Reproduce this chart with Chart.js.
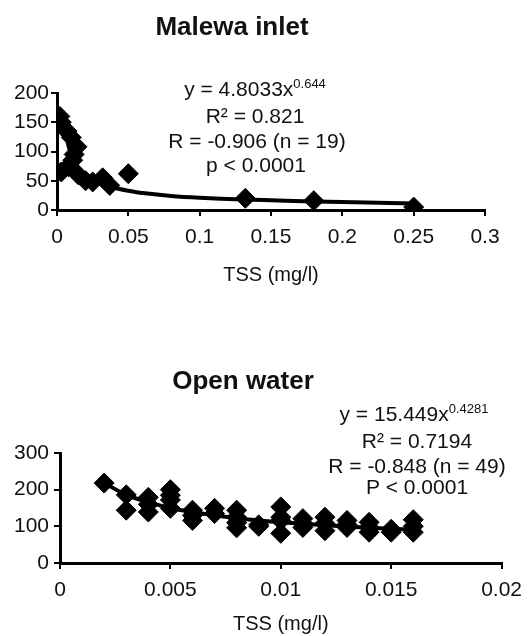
<!DOCTYPE html>
<html>
<head>
<meta charset="utf-8">
<script src="https://cdn.jsdelivr.net/npm/chart.js@4.4.1/dist/chart.umd.min.js"></script>
<style>
body{margin:0;background:#fff;}
#wrap{position:relative;width:531px;height:636px;}
canvas{position:absolute;left:0;}
#inletChart{top:0;}
#openChart{top:320px;}
</style>
</head>
<body>
<div id="wrap">
<canvas id="inletChart" width="531" height="300"></canvas>
<canvas id="openChart" width="531" height="316"></canvas>
</div>
<script>
// Malewa inlet - measured points
const inletTss = [0.002,0.003,0.004,0.007,0.010,0.014,0.012,0.011,0.008,0.003,0.015,0.020,0.025,0.032,0.037,0.050,0.132,0.180,0.250];
const inletVal = [160,150,142,135,124,108,95,85,74,65,60,50,48,55,42,62,20,16,5];

// Malewa inlet - trend curve
const inletFitTss = [0.004,0.005,0.006,0.008,0.01,0.013,0.016,0.02,0.025,0.03,0.04,0.05,0.06,0.08,0.1,0.13,0.16,0.2,0.25];
const inletFitVal = [160,146,131,111,93,78,69,60,52,46,38,33,29,24,21,18,16,13.5,11];

const inletXTicks = [0,0.05,0.1,0.15,0.2,0.25,0.3];
const inletYTicks = [0,50,100,150,200];

// Open water - measured points
const openTss = [0.002,0.003,0.003,0.004,0.004,0.004,0.005,0.005,0.005,0.005,0.006,0.006,0.006,0.007,0.007,0.008,0.008,0.008,0.008,0.009,0.009,0.010,0.010,0.010,0.010,0.011,0.011,0.011,0.012,0.012,0.012,0.013,0.013,0.013,0.014,0.014,0.014,0.015,0.015,0.016,0.016,0.016];
const openVal = [218,186,144,179,160,139,200,185,172,149,144,130,116,149,135,144,125,110,96,104,100,153,125,116,81,121,108,97,125,108,88,116,105,97,111,97,84,92,84,118,100,84];

// Open water - trend curve
const openFitTss = [0.002,0.003,0.004,0.005,0.006,0.007,0.008,0.009,0.01,0.012,0.014,0.016];
const openFitVal = [218,186,166,150,139,130,122,116,111,103,96,91];

const openXTicks = [0,0.005,0.01,0.015,0.02];
const openYTicks = [0,100,200,300];

const FONT = "'Liberation Sans', Arial, sans-serif";

function pts(xs, ys) {
  return xs.map((x, i) => ({x: x, y: ys[i]}));
}

// draws titles and regression text
const notes = {
  id: 'notes',
  afterDraw(chart, args, opts) {
    const ctx = chart.ctx;
    ctx.save();
    ctx.fillStyle = '#111';
    ctx.textBaseline = 'middle';
    ctx.textAlign = 'left';
    opts.lines.forEach(l => {
      ctx.font = l.font;
      const w = ctx.measureText(l.text).width;
      let sw = 0;
      if (l.sup) {
        ctx.font = '13px ' + FONT;
        sw = ctx.measureText(l.sup).width;
      }
      const x0 = l.x - (w + sw) / 2;
      ctx.font = l.font;
      ctx.fillText(l.text, x0, l.y);
      if (l.sup) {
        ctx.font = '13px ' + FONT;
        ctx.fillText(l.sup, x0 + w, l.y - 6);
      }
    });
    ctx.restore();
  }
};

function axis(min, max, tickVals, opt) {
  return {
    type: 'linear',
    min: min,
    max: max,
    afterBuildTicks: s => { s.ticks = tickVals.map(v => ({value: v})); },
    afterFit: opt.fit,
    border: {display: true, color: '#000', width: 3},
    grid: {display: true, drawOnChartArea: false, drawTicks: true, tickLength: 6, color: '#000', lineWidth: 2},
    ticks: {color: '#111', font: {family: FONT, size: 21}, padding: opt.pad, callback: v => String(v)},
    title: opt.title ? {display: true, text: opt.title, color: '#111', font: {family: FONT, size: 20}, padding: {top: 0, bottom: opt.titlePad}} : {display: false}
  };
}

function makeChart(id, p, fit, xs, ys, pad, lines) {
  return new Chart(document.getElementById(id), {
    type: 'scatter',
    data: {
      datasets: [
        {data: p, pointStyle: 'rectRot', pointRadius: 10, backgroundColor: '#000', borderColor: '#000', borderWidth: 1, showLine: false},
        {data: fit, showLine: true, pointRadius: 0, borderColor: '#000', borderWidth: 4, tension: 0.3}
      ]
    },
    options: {
      responsive: false,
      animation: false,
      layout: {padding: pad.layout},
      plugins: {legend: {display: false}, tooltip: {enabled: false}, notes: {lines: lines}},
      scales: {x: xs, y: ys}
    },
    plugins: [notes]
  });
}

// Malewa inlet
makeChart('inletChart',
  pts(inletTss, inletVal), pts(inletFitTss, inletFitVal),
  axis(0, 0.3, inletXTicks, {fit: s => { s.height = 80; }, pad: 9, title: 'TSS (mg/l)', titlePad: 3}),
  axis(0, 200, inletYTicks, {fit: s => { s.width = 57; }, pad: 2}),
  {layout: {left: 0, right: 46, top: 93, bottom: 10}},
  [
    {text: 'Malewa inlet', x: 232, y: 28, font: 'bold 26px ' + FONT},
    {text: 'y = 4.8033x', sup: '0.644', x: 255, y: 90, font: '21px ' + FONT},
    {text: 'R² = 0.821', x: 255, y: 117, font: '21px ' + FONT},
    {text: 'R = -0.906 (n = 19)', x: 257, y: 142, font: '21px ' + FONT},
    {text: 'p < 0.0001', x: 256, y: 166, font: '21px ' + FONT}
  ]);

// Open water
makeChart('openChart',
  pts(openTss, openVal), pts(openFitTss, openFitVal),
  axis(0, 0.02, openXTicks, {fit: s => { s.height = 73; }, pad: 9, title: 'TSS (mg/l)', titlePad: 0}),
  axis(0, 300, openYTicks, {fit: s => { s.width = 60; }, pad: 5}),
  {layout: {left: 0, right: 24, top: 133, bottom: 0}},
  [
    {text: 'Open water', x: 243, y: 62, font: 'bold 26px ' + FONT},
    {text: 'y = 15.449x', sup: '0.4281', x: 414, y: 95, font: '21px ' + FONT},
    {text: 'R² = 0.7194', x: 417, y: 122, font: '21px ' + FONT},
    {text: 'R = -0.848 (n = 49)', x: 417, y: 147, font: '21px ' + FONT},
    {text: 'P < 0.0001', x: 417, y: 168, font: '21px ' + FONT}
  ]);
</script>
</body>
</html>
